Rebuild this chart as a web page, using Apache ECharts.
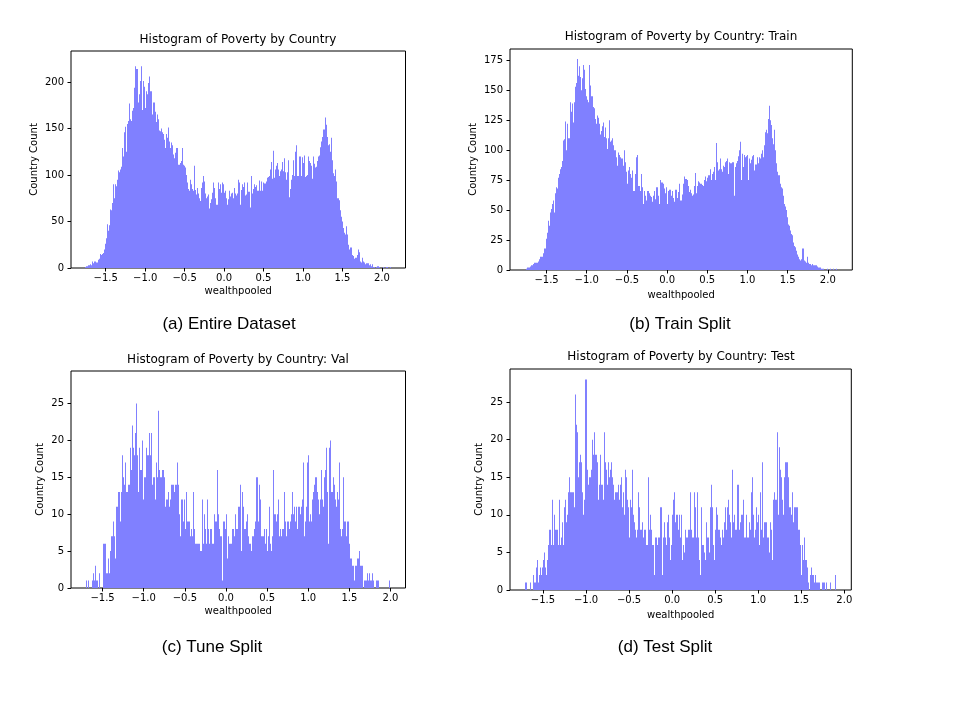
<!DOCTYPE html>
<html><head><meta charset="utf-8">
<script src="https://cdn.jsdelivr.net/npm/echarts@6/dist/echarts.min.js"></script>
<style>html,body{margin:0;padding:0;background:#fff}#c{width:960px;height:720px}</style>
</head><body><div id="c"></div>
<script>
// ---- data (histogram bin counts, 300 bins per split) ----
const entireBinStart = -1.76, entireBinWidth = 0.013;
const trainBinStart = -1.76, trainBinWidth = 0.013;
const valBinStart = -1.699, valBinWidth = 0.01232;
const testBinStart = -1.703, testBinWidth = 0.01201;

const entireCounts = [
1,2,2,3,3,4,3,7,5,7, 7,6,9,10,15,14,15,16,20,26, 32,47,40,46,63,62,70,90,75,90,
88,95,105,103,106,109,129,120,146,152, 125,155,158,177,160,158,169,172,194,217,
214,178,187,201,217,170,201,195,172,190, 187,199,206,190,190,165,178,178,168,157,
165,160,148,147,150,146,144,138,129,144, 140,151,136,129,135,132,122,118,124,129,
111,111,113,115,129,111,110,108,100,92, 85,83,95,90,85,83,110,84,79,86,
80,75,72,86,92,99,93,80,75,77, 79,64,70,74,81,92,86,75,68,92,
85,90,81,92,90,81,83,75,68,74, 83,77,80,81,75,86,80,78,80,95,
92,68,84,90,87,92,78,79,92,82, 82,65,99,80,85,90,87,89,83,94,
83,93,83,92,91,91,93,97,98,99, 106,114,96,126,97,106,110,113,106,99,
104,106,114,104,118,103,95,103,116,76, 85,95,100,116,99,125,132,99,120,120,
99,119,113,121,98,99,100,120,115,113, 110,96,120,112,108,109,115,120,121,130,
136,141,149,149,162,154,141,132,133,125, 140,116,102,99,106,93,75,73,62,55,
50,43,38,36,45,36,25,20,22,22, 14,13,10,11,11,14,20,17,7,6,
11,7,6,4,5,5,5,3,4,2, 4,1,1,0,1,2,1,0,0,0, 1,0,0,1,1,0,0,1,0,0];

const trainCounts = [
1,2,2,2,3,4,4,5,6,6, 6,6,7,9,11,11,11,14,18,26, 31,41,37,48,51,55,58,48,64,69,
68,77,80,84,86,91,108,109,124,100, 122,110,140,132,139,123,140,153,156,176,
162,170,161,150,160,171,167,151,145,142, 140,171,154,145,136,135,126,122,129,127,
122,113,116,120,123,111,119,110,101,110, 125,107,108,110,104,100,94,87,98,96,
94,93,93,87,100,90,82,72,83,86, 80,77,83,66,66,80,94,96,70,66,
80,69,55,66,62,58,66,66,64,62, 61,57,62,66,59,69,69,62,55,75,
73,72,68,64,69,55,66,67,67,62, 66,60,57,67,67,60,65,72,58,58,
63,72,78,76,75,70,65,67,64,62, 63,70,81,64,70,74,73,72,72,71,
70,75,78,74,77,79,84,75,80,82, 86,75,106,90,83,84,93,84,82,87,
86,90,91,93,80,90,89,89,90,62, 86,89,91,95,100,107,75,97,86,96,
94,95,96,75,93,89,92,95,96,83, 88,94,89,94,93,97,100,94,104,115,
117,114,126,137,125,121,110,105,117,100, 89,82,79,72,69,68,62,55,53,50,
44,38,37,33,30,29,23,20,19,16, 13,11,9,8,9,18,8,7,6,11,
6,5,5,4,5,4,4,4,4,3, 2,2,2,1,1,1,0,0,1,0, 0,1,0,0,1,0,0,1,0,0];

const valCounts = [
1,0,1,0,0,0,1,2,1,3, 1,1,0,2,0,0,0,6,6,6, 2,4,2,5,7,7,9,7,4,11,
11,13,13,9,13,18,15,14,17,13, 13,14,14,19,16,22,19,18,21,25,
18,13,19,16,16,20,12,15,15,19, 18,18,21,18,21,14,15,15,12,17,
15,24,16,15,15,16,16,15,11,12, 12,13,11,12,14,14,14,13,14,14,
17,14,10,7,12,9,12,8,13,9, 9,9,7,8,7,13,8,6,6,6,
6,6,5,5,12,6,10,8,6,12, 8,6,8,8,6,6,10,9,9,16,
10,8,7,7,1,9,9,8,10,4, 7,6,6,6,8,8,7,10,8,8,
11,11,14,5,13,11,8,8,9,10, 7,6,6,5,7,7,8,9,15,9,
14,12,7,7,7,8,6,8,5,7, 11,6,5,7,16,10,10,9,10,12,
7,8,7,8,8,13,9,7,9,9, 8,9,10,13,10,11,9,11,8,11,
11,10,11,12,17,7,9,11,17,18, 9,10,9,12,13,14,15,15,13,12,
10,12,16,12,11,15,16,19,13,6, 19,20,13,15,14,12,11,13,12,17,
8,7,8,15,9,9,7,9,9,6, 4,4,3,3,1,3,3,4,4,5,
3,3,3,0,1,1,1,2,1,2, 1,1,2,1,0,0,1,1,1,0, 0,0,0,0,0,0,0,0,0,1];

const testCounts = [
1,0,0,0,1,0,0,2,1,1, 3,4,1,2,3,2,3,4,5,3, 2,4,6,8,8,6,12,6,10,8,
8,6,12,6,7,9,6,11,12,9, 10,13,15,13,13,13,13,11,26,22,
21,15,17,18,17,13,10,12,28,16, 14,15,15,16,20,18,21,18,18,17,
12,14,18,14,14,12,21,17,16,14, 17,15,16,17,15,14,12,13,13,14,
12,14,15,11,13,10,16,15,12,11, 7,12,11,16,10,9,8,7,8,13,
11,8,8,9,7,8,8,6,15,8, 10,8,6,6,2,7,7,6,7,7,
11,11,2,7,9,7,6,9,10,7, 4,6,10,12,13,9,10,8,10,7,
10,4,6,5,8,7,7,8,8,13, 8,7,7,13,11,7,13,7,4,2,
11,6,6,5,4,9,7,5,11,14, 11,6,4,8,11,10,8,8,7,6,
8,7,9,11,8,11,12,10,9,7, 16,9,10,8,8,14,8,9,10,10,
12,7,7,10,7,7,9,8,13,15, 10,7,8,11,9,10,6,13,8,17,
7,9,9,9,7,5,9,8,4,12, 13,12,12,21,10,19,16,15,12,10,
15,17,17,17,15,11,11,10,13,9, 11,11,11,11,8,6,2,6,4,7,
4,4,3,1,0,2,3,2,2,1, 2,1,1,1,1,0,0,1,1,1, 0,1,0,0,1,0,0,0,0,2];

const xTickValues = [-1.5, -1.0, -0.5, 0.0, 0.5, 1.0, 1.5, 2.0];
const yTicksEntire = [0, 50, 100, 150, 200];
const yTicksTrain = [0, 25, 50, 75, 100, 125, 150, 175];
const yTicksSplit = [0, 5, 10, 15, 20, 25];

const titles = ['Histogram of Poverty by Country', 'Histogram of Poverty by Country: Train',
                'Histogram of Poverty by Country: Val', 'Histogram of Poverty by Country: Test'];
const captions = ['(a) Entire Dataset', '(b) Train Split', '(c) Tune Split', '(d) Test Split'];
const xAxisTitle = 'wealthpooled';
const yAxisTitle = 'Country Count';

// ---- layout ----
const panels = [
  {counts: entireCounts, start: entireBinStart, width: entireBinWidth, yTicks: yTicksEntire,
   grid: {left: 71, top: 51, width: 334.5, height: 217}, xMin: -1.94, xMax: 2.30, yMax: 233.4,
   titlePos: [238, 40], capPos: [229, 324], xGap: 18, yGap: 32},
  {counts: trainCounts, start: trainBinStart, width: trainBinWidth, yTicks: yTicksTrain,
   grid: {left: 510, top: 49, width: 342.3, height: 221}, xMin: -1.955, xMax: 2.305, yMax: 184.4,
   titlePos: [681, 37], capPos: [680, 324], xGap: 20, yGap: 32},
  {counts: valCounts, start: valBinStart, width: valBinWidth, yTicks: yTicksSplit,
   grid: {left: 71, top: 371, width: 334.5, height: 217}, xMin: -1.884, xMax: 2.182, yMax: 29.4,
   titlePos: [238, 360], capPos: [212, 647], xGap: 18, yGap: 26},
  {counts: testCounts, start: testBinStart, width: testBinWidth, yTicks: yTicksSplit,
   grid: {left: 510, top: 369, width: 341.3, height: 221}, xMin: -1.883, xMax: 2.081, yMax: 29.4,
   titlePos: [681, 357], capPos: [665, 647], xGap: 20, yGap: 26}
];

const FONT = 'DejaVu Sans';
const fmtX = v => (v < 0 ? '\u2212' : '') + Math.abs(v).toFixed(1);

const option = {
  animation: false,
  backgroundColor: '#fff',
  grid: [], xAxis: [], yAxis: [], series: [], graphic: []
};

panels.forEach((p, k) => {
  option.grid.push(Object.assign({show: true, borderColor: '#000', borderWidth: 1,
    backgroundColor: 'transparent', containLabel: false, outerBoundsMode: 'none'}, p.grid));
  option.xAxis.push({
    type: 'value', gridIndex: k, min: p.xMin, max: p.xMax, position: 'bottom',
    name: xAxisTitle, nameLocation: 'middle', nameGap: p.xGap,
    nameTextStyle: {fontFamily: FONT, fontSize: 10, color: '#000'},
    axisLine: {show: false, onZero: false}, splitLine: {show: false},
    axisTick: {show: true, length: 3.5, customValues: xTickValues, lineStyle: {color: '#000', width: 1}},
    axisLabel: {show: true, customValues: xTickValues, formatter: fmtX, margin: 5,
      fontFamily: FONT, fontSize: 10, color: '#000'}
  });
  option.yAxis.push({
    type: 'value', gridIndex: k, min: 0, max: p.yMax, position: 'left',
    name: yAxisTitle, nameLocation: 'middle', nameGap: p.yGap,
    nameTextStyle: {fontFamily: FONT, fontSize: 10, color: '#000'},
    axisLine: {show: false, onZero: false}, splitLine: {show: false},
    axisTick: {show: true, length: 3.5, customValues: p.yTicks, lineStyle: {color: '#000', width: 1}},
    axisLabel: {show: true, customValues: p.yTicks, margin: 7,
      fontFamily: FONT, fontSize: 10, color: '#000'}
  });
  const items = [];
  p.counts.forEach((c, i) => {
    if (c > 0) items.push([p.start + i * p.width, p.start + (i + 1) * p.width, c]);
  });
  option.series.push({
    type: 'custom', xAxisIndex: k, yAxisIndex: k, clip: true,
    encode: {x: [0, 1], y: 2},
    data: items,
    renderItem: function (params, api) {
      const a = api.coord([api.value(0), 0]);
      const b = api.coord([api.value(1), api.value(2)]);
      const x0 = Math.round(a[0]);
      const x1 = Math.max(x0 + 1, Math.round(b[0]));
      return {type: 'rect',
        shape: {x: x0, y: b[1], width: x1 - x0, height: a[1] - b[1]},
        style: {fill: '#8080ff'}};
    }
  });
  option.graphic.push({type: 'text', x: p.titlePos[0], y: p.titlePos[1],
    style: {text: titles[k], fontFamily: FONT, fontSize: 12, fill: '#000',
      align: 'center', verticalAlign: 'middle', textAlign: 'center', textVerticalAlign: 'middle'}});
  option.graphic.push({type: 'text', x: p.capPos[0], y: p.capPos[1],
    style: {text: captions[k], fontFamily: 'Liberation Sans', fontSize: 17, fill: '#000',
      align: 'center', verticalAlign: 'middle', textAlign: 'center', textVerticalAlign: 'middle'}});
});

const chart = echarts.init(document.getElementById('c'), null, {renderer: 'canvas'});
chart.setOption(option);
</script>
</body></html>
